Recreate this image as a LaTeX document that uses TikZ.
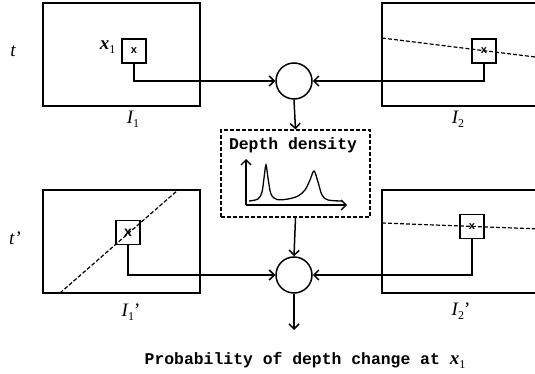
\documentclass[tikz,border=0pt]{standalone}
\usepackage{fontspec}
\setmainfont{Liberation Serif}
\setmonofont{Liberation Mono}
\newfontfamily\markfont{Liberation Sans}
\usetikzlibrary{arrows.meta}
\newcommand{\imglbl}[2]{{\itshape #1}\raisebox{-0.45ex}{\fontsize{12}{12}\selectfont\mdseries #2}}

\begin{document}
\begin{tikzpicture}[
  x=1pt, y=-1pt,
  >={Straight Barb[length=5pt,width=10pt]},
  frame/.style={draw, line width=1.6pt, minimum width=157pt, minimum height=103pt, inner sep=0pt},
  patch/.style={draw, line width=1.5pt, minimum size=24pt, inner sep=0pt, font=\markfont\bfseries\fontsize{11}{11}\selectfont},
  fuse/.style={draw, circle, line width=1.5pt, minimum size=36pt, inner sep=0pt},
  link/.style={->, line width=1.5pt},
  epi/.style={line width=1.2pt, dash pattern=on 4pt off 2pt},
  lbl/.style={font=\fontsize{19}{19}\selectfont},
  mono/.style={font=\ttfamily\bfseries\fontsize{16.4}{16.4}\selectfont},
]
\useasboundingbox (0,0) rectangle (535,374);
\clip (0,0) rectangle (535,374);

% time labels
\node[lbl] (tlbl) at (13,51) {\itshape t};
\node[lbl] (tplbl) at (15,238) {\itshape t'};

% the four images
\node[frame] (img1) at (121.5,54.5) {};
\node[frame] (img2) at (460.5,54.5) {};
\node[frame] (img3) at (121.5,241.5) {};
\node[frame] (img4) at (460.5,241.5) {};

% epipolar lines
\draw[epi] (382,38) -- (540,57.6);
\draw[epi] (60,293) -- (178,190);
\draw[epi] (382,223) -- (540,229);

% patches around x_1 and its matches
\node[patch] (p1) at (134,51) {x};
\node[patch] (p2) at (484,51) {x};
\node[patch, font=\markfont\bfseries\fontsize{14}{14}\selectfont] (p3) at (128,232.5) {x};
\node[patch] (p4) at (472,226.5) {x};
\node[lbl, anchor=east] (x1lbl) at (119,47) {\bfseries\imglbl{x}{1}};

% image names
\node[lbl] (l1) at (133,119) {\imglbl{I}{1}};
\node[lbl] (l2) at (458,119) {\imglbl{I}{2}};
\node[lbl] (l3) at (131,312) {\imglbl{I}{1}'};
\node[lbl] (l4) at (461,311) {\imglbl{I}{2}'};

% fusion nodes
\node[fuse] (fuse1) at (294,81) {};
\node[fuse] (fuse2) at (294,275) {};

% depth density box
\node[draw, epi, minimum width=149pt, minimum height=87pt, inner sep=0pt] (dens) at (295.5,173.5) {};
\node[mono] (denstitle) at (293,145) {Depth density};
\coordinate (orig) at (246,205);
\draw[link, line width=1.3pt] (orig) -- (246,159);
\draw[link, line width=1.3pt] (orig) -- (347,205);
\draw[line width=1.3pt] plot[smooth, tension=0.55] coordinates {
  (249,201) (258,199) (262,192) (264,178) (266,165) (268,178) (271,194)
  (277,199.5) (288,199) (298,196) (305,190) (310,180) (314,171)
  (318,182) (322,195) (328,200) (342,201)};

% connectors
\draw[link] (p1.south) |- (fuse1.west);
\draw[link] (p2.south) |- (fuse1.east);
\draw[link] (fuse1.south) -- (dens.north);
\draw[link] (dens.south) -- (fuse2.north);
\draw[link] (p3.south) |- (fuse2.west);
\draw[link] (p4.south) |- (fuse2.east);
\coordinate (out) at (294,330);
\draw[link] (fuse2.south) -- (out);

\node[mono] (result) at (305,360) {Probability of depth change at \normalfont\fontsize{19}{19}\selectfont\bfseries\imglbl{x}{1}};
\end{tikzpicture}
\end{document}
